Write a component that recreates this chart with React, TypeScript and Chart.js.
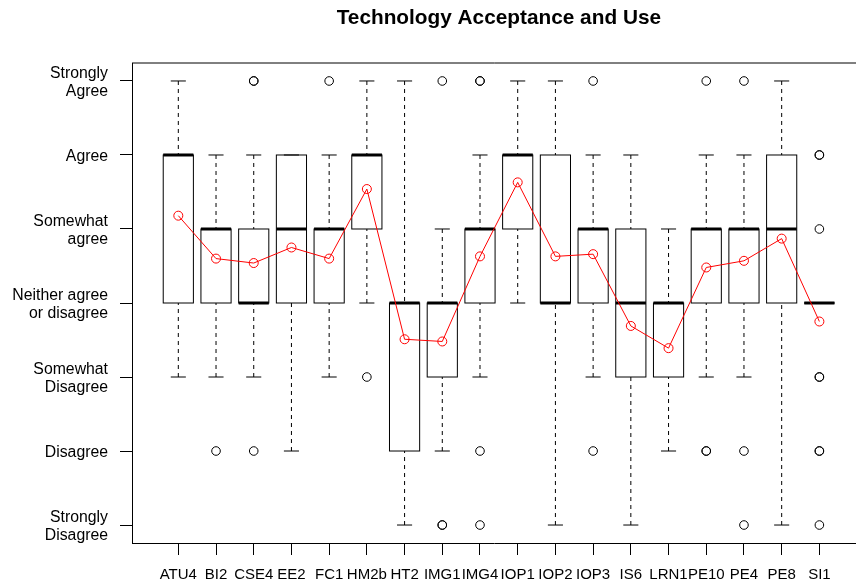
import React, { useEffect, useRef } from 'react';
import { Chart, registerables } from 'chart.js';

Chart.register(...registerables);

const titleText = 'Technology Acceptance and Use';

const categories = ['ATU4', 'BI2', 'CSE4', 'EE2', 'FC1', 'HM2b', 'HT2', 'IMG1', 'IMG4', 'IOP1', 'IOP2', 'IOP3', 'IS6', 'LRN1', 'PE10', 'PE4', 'PE8', 'SI1'];

const whiskerLow = [3, 3, 3, 2, 3, 4, 1, 2, 3, 4, 1, 3, 1, 2, 3, 3, 1, 4];
const q1 = [4, 4, 4, 4, 4, 5, 2, 3, 4, 5, 4, 4, 3, 3, 4, 4, 4, 4];
const median = [6, 5, 4, 5, 5, 6, 4, 4, 5, 6, 4, 5, 4, 4, 5, 5, 5, 4];
const q3 = [6, 5, 5, 6, 5, 6, 4, 4, 5, 6, 6, 5, 5, 4, 5, 5, 6, 4];
const whiskerHigh = [7, 6, 6, 6, 6, 7, 7, 5, 6, 7, 7, 6, 6, 5, 6, 6, 7, 4];

// repeated values = several overlapping outliers (drawn darker)
const outliers: number[][] = [
  [], [2], [7, 7, 2], [], [7], [3], [], [7, 1, 1], [7, 7, 2, 1], [], [], [7, 2], [], [], [7, 2, 2], [7, 2, 1], [], [6, 6, 5, 3, 3, 2, 2, 1],
];

const means = [5.18, 4.6, 4.54, 4.75, 4.6, 5.54, 3.51, 3.48, 4.63, 5.63, 4.63, 4.66, 3.69, 3.39, 4.48, 4.57, 4.87, 3.75];

const yTickValues = [1, 2, 3, 4, 5, 6, 7];
const yTickLabels: string[][] = [
  ['Strongly', 'Disagree'],
  ['Disagree'],
  ['Somewhat', 'Disagree'],
  ['Neither agree', 'or disagree'],
  ['Somewhat', 'agree'],
  ['Agree'],
  ['Strongly', 'Agree'],
];

const FONT = '"Liberation Sans", Arial, Helvetica, sans-serif';

const boxPlugin = {
  id: 'rBoxplot',
  beforeDatasetsDraw(chart: any) {
    const { ctx, chartArea, scales } = chart;
    const xs = scales.x;
    const ys = scales.y;
    const py = (v: number) => ys.getPixelForValue(v);
    const seg = (x1: number, y1: number, x2: number, y2: number) => {
      ctx.beginPath();
      ctx.moveTo(x1, y1);
      ctx.lineTo(x2, y2);
      ctx.stroke();
    };
    ctx.save();
    ctx.strokeStyle = '#000';
    ctx.lineWidth = 1;
    ctx.lineCap = 'butt';
    // top of plot frame
    seg(chartArea.left, chartArea.top, chartArea.right + 5, chartArea.top);
    categories.forEach((_, i) => {
      const xc = xs.getPixelForValue(i + 1);
      const half = xs.getPixelForValue(i + 1.4) - xc;
      const capHalf = half / 2;
      ctx.lineWidth = 1;
      ctx.setLineDash([4, 4]);
      seg(xc, py(whiskerLow[i]), xc, py(q1[i]));
      seg(xc, py(whiskerHigh[i]), xc, py(q3[i]));
      ctx.setLineDash([]);
      seg(xc - capHalf, py(whiskerLow[i]), xc + capHalf, py(whiskerLow[i]));
      seg(xc - capHalf, py(whiskerHigh[i]), xc + capHalf, py(whiskerHigh[i]));
      ctx.strokeRect(xc - half, py(q3[i]), 2 * half, py(q1[i]) - py(q3[i]));
      ctx.lineWidth = 3;
      seg(xc - half, py(median[i]), xc + half, py(median[i]));
    });
    ctx.restore();
  },
  afterDraw(chart: any) {
    const { ctx, scales } = chart;
    ctx.save();
    ctx.font = `bold 20.8px ${FONT}`;
    ctx.fillStyle = '#000';
    ctx.textAlign = 'center';
    ctx.textBaseline = 'middle';
    ctx.fillText(titleText, scales.x.getPixelForValue((1 + categories.length) / 2), 18);
    ctx.restore();
  },
};

export default function App() {
  const canvasRef = useRef<HTMLCanvasElement | null>(null);

  useEffect(() => {
    if (!canvasRef.current) return;
    const outlierPoints: { x: number; y: number }[] = [];
    outliers.forEach((list, i) => list.forEach((v) => outlierPoints.push({ x: i + 1, y: v })));
    const meanPoints = means.map((v, i) => ({ x: i + 1, y: v }));

    const chart = new Chart(canvasRef.current, {
      type: 'scatter',
      data: {
        datasets: [
          {
            type: 'scatter',
            data: outlierPoints,
            pointStyle: 'circle',
            pointRadius: 4.3,
            pointBorderWidth: 1,
            pointBorderColor: '#000',
            pointBackgroundColor: 'rgba(0,0,0,0)',
          } as any,
          {
            type: 'line',
            data: meanPoints,
            borderColor: '#ff0000',
            borderWidth: 1,
            tension: 0,
            fill: false,
            pointStyle: 'circle',
            pointRadius: 4.5,
            pointBorderWidth: 1,
            pointBorderColor: '#ff0000',
            pointBackgroundColor: 'rgba(0,0,0,0)',
          } as any,
        ],
      },
      options: {
        responsive: false,
        animation: false,
        events: [],
        devicePixelRatio: 1,
        layout: { autoPadding: false, padding: { top: 63, left: 0, right: 0, bottom: 0 } },
        plugins: { legend: { display: false }, tooltip: { enabled: false }, title: { display: false } },
        scales: {
          x: {
            type: 'linear',
            min: -0.228,
            max: 18.971,
            afterBuildTicks: (s: any) => {
              s.ticks = categories.map((_, i) => ({ value: i + 1 }));
            },
            afterFit: (s: any) => {
              s.height = 42;
              s.paddingLeft = 0;
              s.paddingRight = 0;
            },
            ticks: {
              autoSkip: false,
              maxRotation: 0,
              minRotation: 0,
              padding: 11,
              color: '#000',
              font: { family: FONT, size: 15 },
              callback: (v: any) => categories[Math.round(Number(v)) - 1] ?? '',
            },
            grid: { drawOnChartArea: false, drawTicks: true, tickLength: 12, color: '#000', lineWidth: 1 },
            border: { display: true, color: '#000', width: 1 },
          },
          y: {
            type: 'linear',
            min: 0.757,
            max: 7.243,
            afterBuildTicks: (s: any) => {
              s.ticks = yTickValues.map((v) => ({ value: v }));
            },
            afterFit: (s: any) => {
              s.width = 132;
              s.paddingTop = 0;
              s.paddingBottom = 0;
            },
            ticks: {
              autoSkip: false,
              padding: 12,
              labelOffset: 2,
              color: '#000',
              font: { family: FONT, size: 15.8, lineHeight: 1.15 },
              callback: (v: any) => yTickLabels[Math.round(Number(v)) - 1] ?? '',
            },
            grid: { drawOnChartArea: false, drawTicks: true, tickLength: 12, color: '#000', lineWidth: 1 },
            border: { display: true, color: '#000', width: 1 },
          },
        },
      },
      plugins: [boxPlugin],
    } as any);

    return () => chart.destroy();
  }, []);

  return (
    <div style={{ position: 'absolute', left: 0, top: 0, width: 856, height: 585, background: '#fff' }}>
      <canvas ref={canvasRef} width={856} height={585} style={{ display: 'block', width: 856, height: 585 }} />
    </div>
  );
}
